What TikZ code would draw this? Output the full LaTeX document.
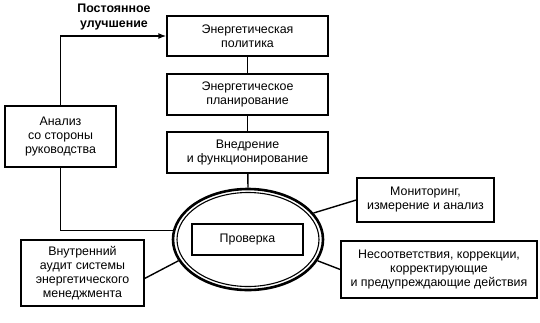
\documentclass[tikz,border=0pt]{standalone}
\usepackage{fontspec}
\setmainfont{Liberation Sans}
\usetikzlibrary{shapes.geometric,arrows.meta}
\begin{document}
\begin{tikzpicture}[x=1pt,y=-1pt,
  font=\fontsize{12.4}{14}\selectfont,
  box/.style={draw,line width=1.4pt,rectangle,align=center,inner sep=0pt},
  conn/.style={line width=1.4pt},
  lbl/.style={font=\fontsize{12.4}{15}\selectfont\bfseries,align=center,inner sep=0pt}]
\useasboundingbox (0,0) rectangle (540,322);
\node[box,minimum width=161pt,minimum height=40pt] (pol) at (247.5,36) {Энергетическая\\политика};
\node[box,minimum width=161pt,minimum height=41pt] (plan) at (247.5,94.5) {Энергетическое\\планирование};
\node[box,minimum width=161pt,minimum height=41pt] (vned) at (247.5,152.5) {Внедрение\\и функционирование};
\node[box,minimum width=111pt,minimum height=61pt] (anal) at (60.5,136.5) {Анализ\\со стороны\\руководства};
\node[draw,ellipse,line width=2.6pt,minimum width=150pt,minimum height=101pt,inner sep=0pt] (ell) at (248,239.5) {};
\draw[line width=1.1pt] (ell.center) ellipse [x radius=71pt, y radius=47pt];
\node[box,minimum width=111pt,minimum height=31pt] (prov) at (247.5,239.5) {Проверка};
\node[box,minimum width=137pt,minimum height=44pt] (mon) at (425.5,200) {Мониторинг,\\измерение и анализ};
\node[box,minimum width=196pt,minimum height=57pt] (nes) at (439,269.5) {Несоответствия, коррекции,\\корректирующие\\и предупреждающие действия};
\node[box,minimum width=123pt,minimum height=66pt] (aud) at (82.5,273) {Внутренний\\аудит системы\\энергетического\\менеджмента};
\node[lbl] (imp) at (114,17) {Постоянное\\улучшение};
\draw[conn] (pol) -- (plan);
\draw[conn] (plan) -- (vned);
\draw[conn] (vned) -- (ell.north);
\draw[conn,-{Latex[length=8pt,width=6pt]}] (anal.north) |- (pol.west);
\draw[conn] (anal.south) |- (ell.173.5);
\draw[conn] (ell.22) -- (mon.west);
\draw[conn] (ell.-17) -- (nes.west);
\draw[conn] (ell.197.8) -- (aud.-5.6);
\end{tikzpicture}
\end{document}
